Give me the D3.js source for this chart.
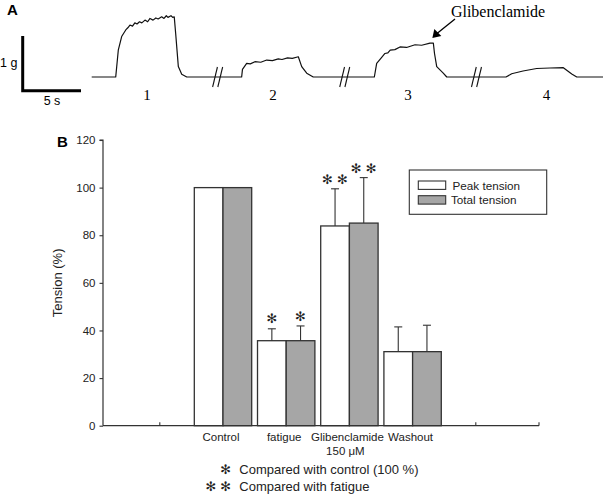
<!DOCTYPE html>
<html><head><meta charset="utf-8">
<script src="https://cdn.jsdelivr.net/npm/d3@7/dist/d3.min.js"></script>
<style>body{margin:0;background:#fff}svg{display:block}</style>
</head><body>
<svg id="c" width="606" height="495"></svg>
<script>
// ---------- Panel A data: tension traces (time s, tension g) ----------
const trace1 = [[0,0],[2.06,0],[2.28,0.49],[2.57,0.74],[2.92,0.86],[3.1,0.9],[3.28,0.95],[3.5,0.93],[3.7,0.99],[3.89,0.97],[4.1,1.01],[4.3,0.99],[4.57,1.04],[4.8,1.01],[5.0,1.07],[5.26,1.04],[5.5,1.08],[5.7,1.06],[6.0,1.1],[6.2,1.07],[6.4,1.12],[6.54,1.09],[6.8,1.12],[6.95,1.09],[7.08,1.1],[7.2,0.8],[7.43,0.19],[7.72,0.05],[8.15,0]];
const trace2 = [[8.15,0],[12.86,0],[12.93,0.14],[13.29,0.25],[13.6,0.24],[14.0,0.28],[14.5,0.27],[15.01,0.31],[15.5,0.3],[16.0,0.33],[16.32,0.32],[16.8,0.35],[17.2,0.34],[17.72,0.37],[18.01,0.19],[18.44,0.07],[19.0,0]];
const trace3 = [[19.0,0],[24.24,0],[24.44,0.25],[24.8,0.34],[25.15,0.43],[25.4,0.44],[25.6,0.49],[26.0,0.5],[26.44,0.55],[27.0,0.54],[27.73,0.59],[28.3,0.58],[29.01,0.62],[29.3,0.62],[29.4,0.43],[29.59,0.19],[30.15,0.07],[30.45,0]];
const trace4 = [[30.45,0],[35.53,0],[36.02,0.06],[36.99,0.11],[38.16,0.155],[39.3,0.165],[40.45,0.17],[41.17,0.055],[41.6,0],[43.85,0]];
const traces = [trace1, trace2, trace3, trace4];
const breakTimes = [10.8, 21.7, 33.0];
const traceLabels = ["1","2","3","4"];
const traceLabelTimes = [4.74, 15.55, 27.13, 39.0];

// ---------- Panel B data ----------
const categories = ["Control","fatigue","Glibenclamide","Washout"];
const categorySub = ["","","150 \u03bcM",""];
const seriesNames = ["Peak tension","Total tension"];
const peakValues  = [100, 35.7, 83.9, 31.1];
const totalValues = [100, 35.7, 85.1, 31.1];
const peakErrors  = [0, 5.0, 15.6, 10.4];
const totalErrors = [0, 6.2, 19.1, 11.1];
const peakStars   = [0, 1, 2, 0];
const totalStars  = [0, 1, 2, 0];
const yTicks = [0,20,40,60,80,100,120];

const svg = d3.select("#c");
const SANS = "'Liberation Sans', Arial, sans-serif";
const SERIF = "'Liberation Serif', 'Times New Roman', serif";
const STAR = "\u273B";
const STARFONT = "'DejaVu Sans'";

// ---------- Panel A ----------
const xT = d3.scaleLinear().domain([0, 43.85]).range([91.7, 603]);
const yT = d3.scaleLinear().domain([0, 1]).range([77, 22.3]);
const line = d3.line().x(d=>xT(d[0])).y(d=>yT(d[1]));
const allTrace = [].concat(...traces);
svg.append("path").attr("d", line(allTrace)).attr("fill","none")
  .attr("stroke","#111").attr("stroke-width",1.2).attr("stroke-linejoin","round");
breakTimes.forEach(t=>{
  [-2.6, 2.6].forEach(o=>{
    svg.append("line").attr("x1", xT(t)+o-2.4).attr("y1", yT(0)+10)
      .attr("x2", xT(t)+o+2.4).attr("y2", yT(0)-10)
      .attr("stroke","#111").attr("stroke-width",1.1);
  });
});
traceLabels.forEach((l,i)=>{
  svg.append("text").attr("x", xT(traceLabelTimes[i])).attr("y", 100)
    .attr("text-anchor","middle").attr("font-family",SERIF).attr("font-size",15).text(l);
});
// scale bar 1 g / 5 s
const sbX = 22.7, sbY = 90.7;
svg.append("path").attr("d",
  `M${sbX},${sbY-(yT(0)-yT(1))} L${sbX},${sbY} L${sbX+(xT(5)-xT(0))},${sbY}`)
  .attr("fill","none").attr("stroke","#000").attr("stroke-width",3);
svg.append("text").attr("x",0).attr("y",67).attr("font-family",SANS).attr("font-size",12.5).text("1 g");
svg.append("text").attr("x",52).attr("y",105).attr("text-anchor","middle").attr("font-family",SANS).attr("font-size",12.5).text("5 s");
svg.append("text").attr("x",7).attr("y",14.5).attr("font-family",SANS).attr("font-weight","bold").attr("font-size",15).text("A");
// Glibenclamide annotation
svg.append("text").attr("x",498).attr("y",17).attr("text-anchor","middle").attr("font-family",SERIF).attr("font-size",16).text("Glibenclamide");
const tip = [xT(29.3)-1, yT(0.62)-5];
svg.append("line").attr("x1",455).attr("y1",19).attr("x2",tip[0]+4).attr("y2",tip[1]-4)
  .attr("stroke","#000").attr("stroke-width",1.3);
svg.append("path").attr("d", `M${tip[0]},${tip[1]} L${tip[0]+2},${tip[1]-9} L${tip[0]+9},${tip[1]-2} Z`).attr("fill","#000");

// ---------- Panel B ----------
const plotL = 103, plotR = 539;
const y = d3.scaleLinear().domain([0,120]).range([425.7, 140]);
const x = d3.scaleBand().domain(categories).range([191.4, 444.2]).paddingInner(0.092).paddingOuter(0.046);
const xs = d3.scaleBand().domain(seriesNames).range([0, x.bandwidth()]);
const ink = "#333";

// y axis
const yAxis = d3.axisLeft(y).tickValues(yTicks).tickSize(3.5).tickPadding(4);
const ga = svg.append("g").attr("transform",`translate(${plotL},0)`).call(yAxis);
ga.select(".domain").attr("stroke",ink).attr("stroke-width",1.2).attr("d",`M-3.5,${y(120)}H0V${y(0)}`);
ga.selectAll(".tick line").attr("stroke",ink).attr("stroke-width",1.1);
ga.selectAll(".tick text").attr("font-family",SANS).attr("font-size",11.5).attr("fill","#222");

svg.append("text").attr("transform",`translate(62,${(y(0)+y(120))/2}) rotate(-90)`)
  .attr("text-anchor","middle").attr("font-family",SANS).attr("font-size",13).attr("fill","#222").text("Tension (%)");
svg.append("text").attr("x",57).attr("y",146.5).attr("font-family",SANS).attr("font-weight","bold").attr("font-size",15).text("B");

// bars
const colors = {"Peak tension":"#ffffff","Total tension":"#a6a6a6"};
const rows = categories.map((c,i)=>[
  {cat:c, s:seriesNames[0], v:peakValues[i], e:peakErrors[i], st:peakStars[i]},
  {cat:c, s:seriesNames[1], v:totalValues[i], e:totalErrors[i], st:totalStars[i]}
]).flat();
function star(px, py){
  svg.append("text").attr("x",px).attr("y",py).attr("dy","0.36em").attr("text-anchor","middle")
    .attr("font-family",STARFONT).attr("font-size",13).attr("fill","#222").text(STAR);
}
rows.forEach(d=>{
  const bx = x(d.cat)+xs(d.s), bw = xs.bandwidth(), cx = bx + bw/2;
  svg.append("rect").attr("x",bx).attr("y",y(d.v)).attr("width",bw).attr("height",y(0)-y(d.v))
    .attr("fill",colors[d.s]).attr("stroke",ink).attr("stroke-width",1.3);
  if(d.e>0){
    svg.append("line").attr("x1",cx).attr("x2",cx).attr("y1",y(d.v)).attr("y2",y(d.v+d.e)).attr("stroke",ink).attr("stroke-width",1.1);
    svg.append("line").attr("x1",cx-4).attr("x2",cx+4).attr("y1",y(d.v+d.e)).attr("y2",y(d.v+d.e)).attr("stroke",ink).attr("stroke-width",1.1);
  }
  if(d.st===1) star(cx, y(d.v+d.e)-10);
  else if(d.st===2) [-7.5,7.5].forEach(o=>star(cx+o, y(d.v+d.e)-9));
});

// x axis
svg.append("line").attr("x1",plotL).attr("x2",plotR).attr("y1",y(0)).attr("y2",y(0)).attr("stroke",ink).attr("stroke-width",1.3);
const first = categories[0], last = categories[categories.length-1];
const tickXs = [x(first)+x.bandwidth()/2 - x.step(), x(last)+x.bandwidth()/2 + x.step(), plotR];
tickXs.forEach(tx=>svg.append("line").attr("x1",tx).attr("x2",tx).attr("y1",y(0)).attr("y2",y(0)-3.5).attr("stroke",ink).attr("stroke-width",1.1));
categories.forEach((c,i)=>{
  const cx = x(c)+x.bandwidth()/2;
  svg.append("text").attr("x",cx-2).attr("y",441).attr("text-anchor","middle").attr("font-family",SANS).attr("font-size",11.5).attr("fill","#222").text(c);
  if(categorySub[i]) svg.append("text").attr("x",cx-4).attr("y",454.5).attr("text-anchor","middle").attr("font-family",SANS).attr("font-size",11.5).attr("fill","#222").text(categorySub[i]);
});

// legend
svg.append("rect").attr("x",409.3).attr("y",170).attr("width",137.4).attr("height",44.3).attr("fill","#fff").attr("stroke",ink).attr("stroke-width",1.1);
seriesNames.forEach((s,i)=>{
  svg.append("rect").attr("x",418.3).attr("y",181+i*14.7).attr("width",27.4).attr("height",8.4).attr("fill",colors[s]).attr("stroke",ink).attr("stroke-width",1.1);
  svg.append("text").attr("x",452.5 - i*1.5).attr("y",185.5+i*14.7).attr("dy","0.35em").attr("font-family",SANS).attr("font-size",11.7).attr("fill","#222").text(s);
});

// footnotes
const notes = [{stars:1, text:"Compared with control (100 %)"},{stars:2, text:"Compared with fatigue"}];
notes.forEach((n,i)=>{
  const yy = 469 + i*17.7;
  for(let k=0;k<n.stars;k++) star(225.7 - k*14.7, yy);
  svg.append("text").attr("x",239.3).attr("y",yy).attr("dy","0.35em").attr("font-family",SANS).attr("font-size",13).attr("fill","#222").text(n.text);
});
</script>
</body></html>
